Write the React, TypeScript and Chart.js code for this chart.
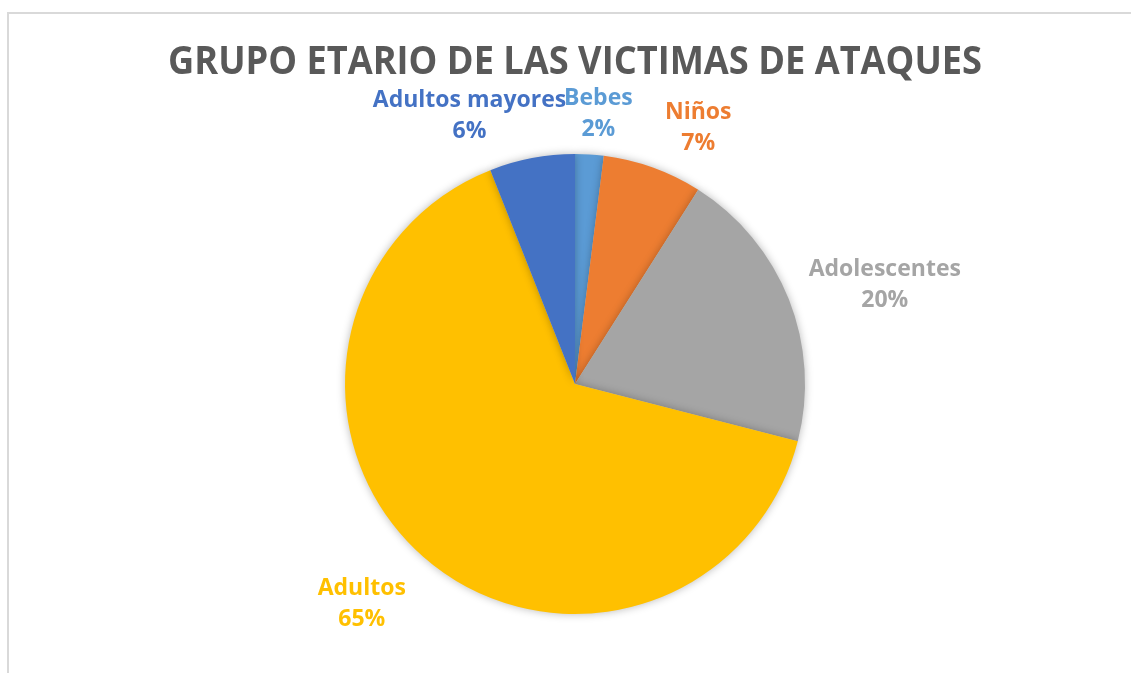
import React, { useEffect, useRef } from "react";
import { Chart, registerables } from "chart.js";

Chart.register(...registerables);

const categories = ["Bebes", "Niños", "Adolescentes", "Adultos", "Adultos mayores"];
const percentValues = [2, 7, 20, 65, 6];
const sliceColors = ["#5B9BD5", "#ED7D31", "#A5A5A5", "#FFC000", "#4472C4"];
const chartTitle = "GRUPO ETARIO DE LAS VICTIMAS DE ATAQUES";

const FONT = "'Open Sans', 'DejaVu Sans', sans-serif";

const labelNudge: Record<string, [number, number]> = {
  "Bebes": [6, 2],
  "Niños": [30, 1],
  "Adolescentes": [14, 1],
  "Adultos": [-24, 15],
  "Adultos mayores": [-42, 0],
};

const shadowPlugin = {
  id: "pieShadow",
  beforeDatasetsDraw(chart: any) {
    const ctx = chart.ctx;
    ctx.save();
    ctx.shadowColor = "rgba(0,0,0,0.28)";
    ctx.shadowBlur = 9;
    ctx.shadowOffsetX = 0;
    ctx.shadowOffsetY = 0;
  },
  afterDatasetsDraw(chart: any) {
    chart.ctx.restore();
  },
};

const labelPlugin = {
  id: "excelLabels",
  afterDraw(chart: any) {
    const ctx = chart.ctx;
    ctx.save();
    ctx.font = `bold 40px ${FONT}`;
    ctx.fillStyle = "#595959";
    ctx.textAlign = "center";
    ctx.textBaseline = "alphabetic";
    const tw = ctx.measureText(chartTitle).width;
    const target = 814;
    const sx = target / tw;
    ctx.translate(575, 74);
    ctx.scale(sx, 1);
    ctx.fillText(chartTitle, 0, 0);
    ctx.restore();

    const meta = chart.getDatasetMeta(0);
    const total = percentValues.reduce((a, b) => a + b, 0);
    ctx.save();
    ctx.font = `bold 23px ${FONT}`;
    ctx.textAlign = "center";
    ctx.textBaseline = "middle";
    const lineH = 31;
    meta.data.forEach((arc: any, i: number) => {
      const p = arc.getProps(["x", "y", "startAngle", "endAngle", "outerRadius"], true);
      const mid = (p.startAngle + p.endAngle) / 2;
      const c = Math.cos(mid);
      const s = Math.sin(mid);
      const gap = 12;
      const ax = p.x + (p.outerRadius + gap) * c;
      const ay = p.y + (p.outerRadius + gap) * s;
      const name = categories[i];
      const pct = Math.round((percentValues[i] / total) * 100) + "%";
      const w = Math.max(ctx.measureText(name).width, ctx.measureText(pct).width);
      const h = lineH * 2;
      const nudge = labelNudge[name] || [0, 0];
      const cx = ax + (c * w) / 2 + nudge[0];
      const cy = ay + (s * h) / 2 + nudge[1];
      ctx.fillStyle = sliceColors[i];
      ctx.fillText(name, cx, cy - lineH / 2);
      ctx.fillText(pct, cx, cy + lineH / 2);
    });
    ctx.restore();
  },
};

export default function App() {
  const canvasRef = useRef<HTMLCanvasElement | null>(null);

  useEffect(() => {
    if (!canvasRef.current) return;
    const chart = new Chart(canvasRef.current, {
      type: "pie",
      data: {
        labels: categories,
        datasets: [
          {
            data: percentValues,
            backgroundColor: sliceColors,
            borderWidth: 0,
          },
        ],
      },
      options: {
        responsive: false,
        animation: false,
        layout: { padding: { top: 154, bottom: 59, left: 115, right: 96 } },
        plugins: {
          legend: { display: false },
          title: { display: false },
          tooltip: { enabled: false },
        },
      },
      plugins: [shadowPlugin, labelPlugin],
    });
    return () => chart.destroy();
  }, []);

  return (
    <div
      style={{
        position: "fixed",
        left: 0,
        top: 0,
        width: 1131,
        height: 673,
        background: "#ffffff",
        overflow: "hidden",
      }}
    >
      <div
        style={{
          position: "absolute",
          left: 7,
          top: 12,
          width: 1200,
          height: 700,
          borderTop: "2px solid #d9d9d9",
          borderLeft: "2px solid #d9d9d9",
          boxSizing: "border-box",
        }}
      />
      <canvas
        ref={canvasRef}
        width={1131}
        height={673}
        style={{ position: "absolute", left: 0, top: 0, width: 1131, height: 673 }}
      />
    </div>
  );
}
